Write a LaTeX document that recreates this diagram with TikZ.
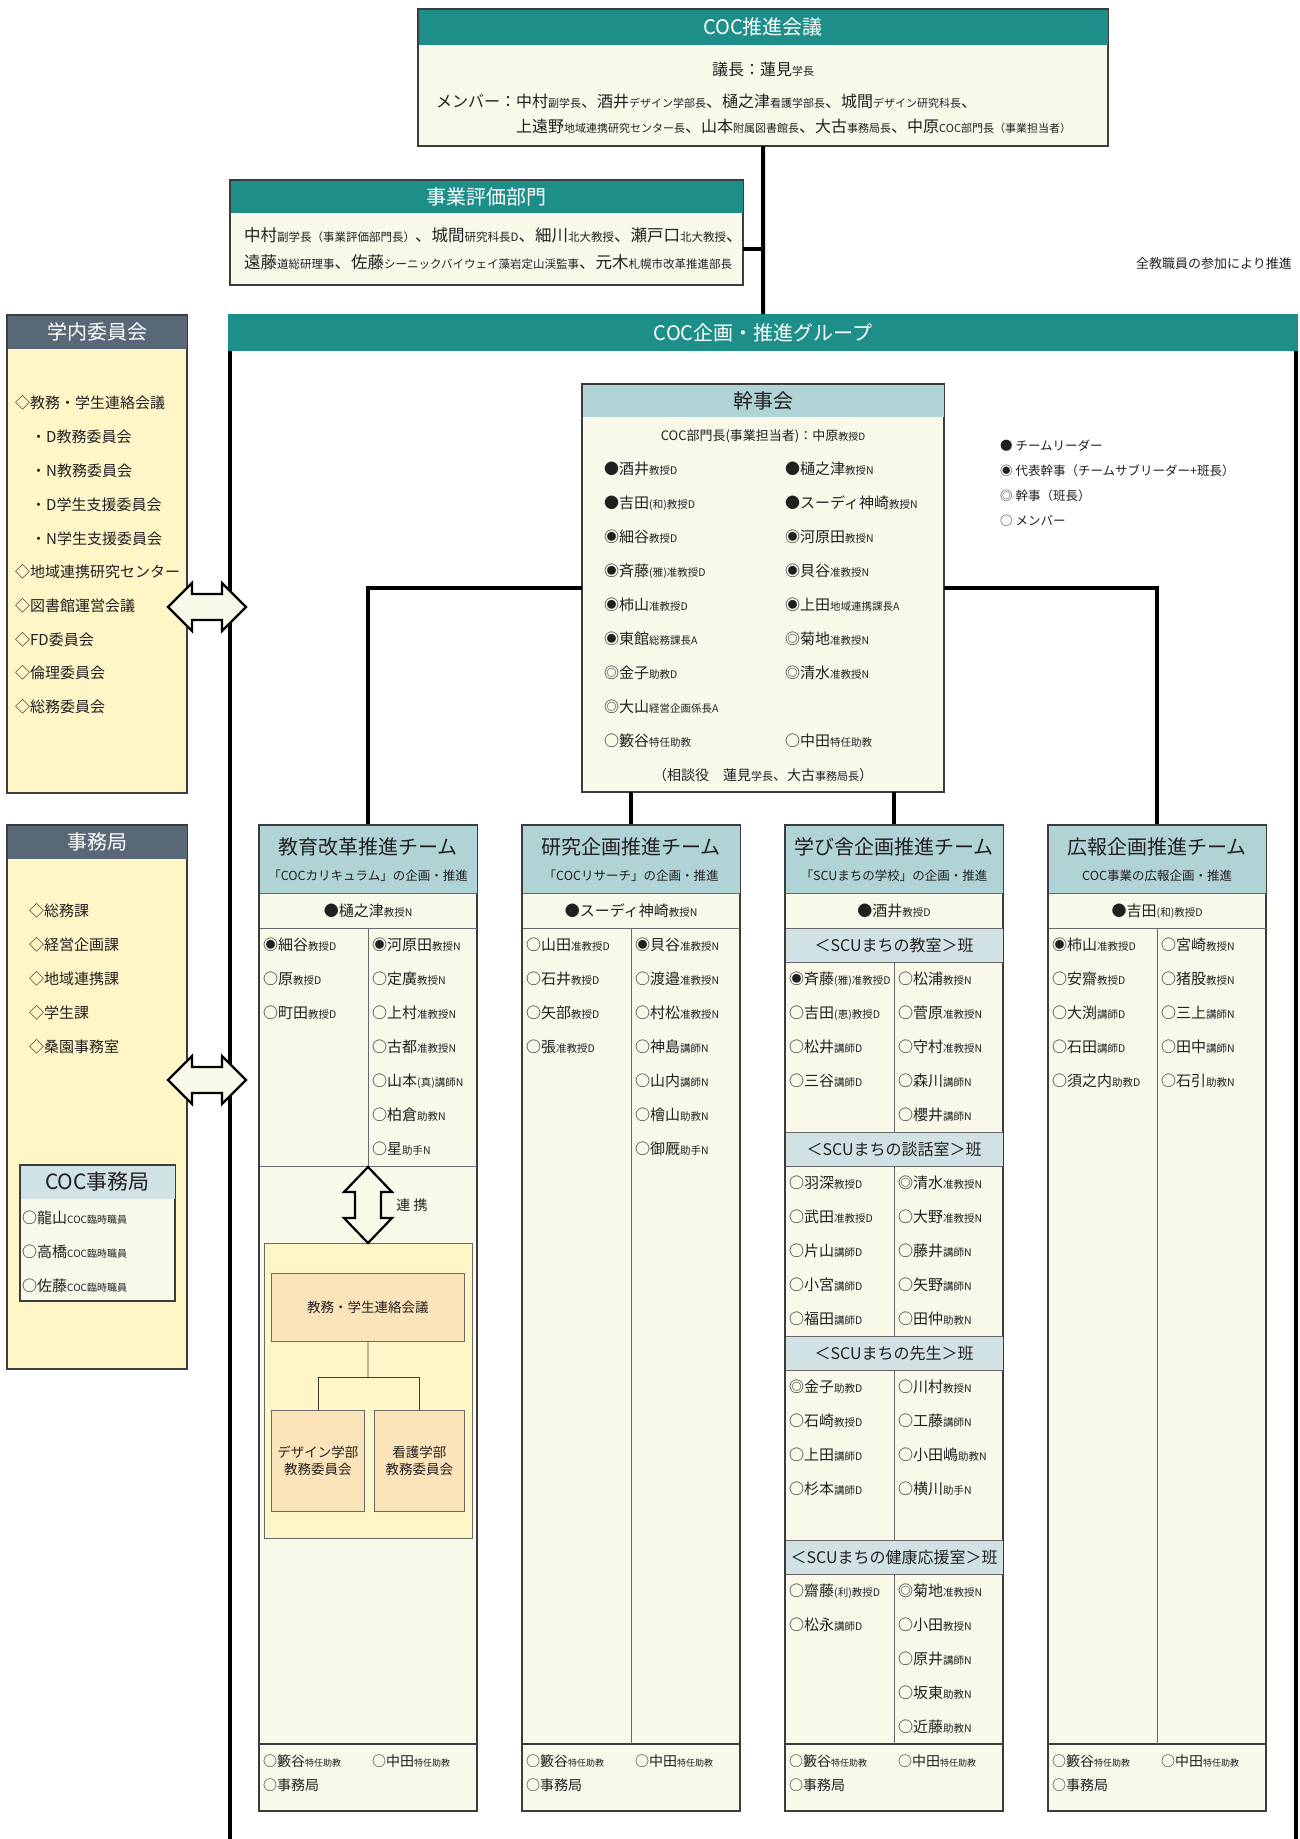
\documentclass[tikz,border=0pt]{standalone}
\usepackage{fontspec}
\setmainfont{Noto Sans CJK JP}
\usetikzlibrary{calc}
\definecolor{cTeal}{RGB}{30,142,137}
\definecolor{cSlate}{RGB}{88,104,118}
\definecolor{cLt}{RGB}{176,212,213}
\definecolor{cSec}{RGB}{208,226,227}
\definecolor{cCream}{RGB}{249,249,234}
\definecolor{cYel}{RGB}{255,246,200}
\definecolor{cOrg}{RGB}{251,228,185}
\definecolor{cBd}{RGB}{60,60,60}
\definecolor{cTx}{RGB}{35,31,32}
\definecolor{cGr}{RGB}{105,105,105}
\newcommand\fs[1]{\fontsize{#1}{#1}\selectfont}
\newcommand\smA[1]{{\fs{10.5}#1}}
\newcommand\smB[1]{{\fs{11}#1}}
\newcommand\smC[1]{{\fs{11.5}#1}}
\newcommand\smD[1]{{\fs{9}#1}}
\newcommand\smE[1]{{\fs{10}#1}}
\newcommand\HBox[8]{%
 \node[box, fill=#8, minimum width=#4pt, minimum height=#5pt] (#1) at (#2,#3) {};
 \fill[#7] (#1.north west) rectangle ($(#1.north east)+(0,#6)$);
 \draw[draw=cBd, line width=1.2pt] (#1.north west) rectangle (#1.south east);
}
\newcommand\Col[4]{%
 \foreach \n/\t [count=\i from 0] in {#4} {
   \node[mem] (#1-\i) at ({#2},{#3+34*\i}) {\n\smA{\t}};
 }
}
\newcommand\Team[5]{%
 \node[box, fill=cCream, minimum width=217pt, minimum height=985pt] (#1) at (#2,825) {};
 \fill[cLt] (#1.north west) rectangle ($(#1.north east)+(0,68)$);
 \draw[rowln] ($(#1.north west)+(0,68)$) -- ($(#1.north east)+(0,68)$);
 \draw[rowln] ($(#1.north west)+(0,103)$) -- ($(#1.north east)+(0,103)$);
 \draw[draw=cBd, line width=1.2pt] ($(#1.north west)+(0,919)$) -- ($(#1.north east)+(0,919)$);
 \node[ttl] (#1-t) at ($(#1.north)+(0,22)$) {#3};
 \node[font=\fs{12.5}, inner sep=0pt] (#1-s) at ($(#1.north)+(0,51)$) {#4};
 \node[font=\fs{15}, inner sep=0pt] (#1-l) at ($(#1.north)+(0,86)$) {#5};
 \node[mem, font=\fs{14}] (#1-f1) at ($(#1.north west)+(4,936)$) {○籔谷\smD{特任助教}};
 \node[mem, font=\fs{14}] (#1-f2) at ($(#1.north west)+(113,936)$) {○中田\smD{特任助教}};
 \node[mem, font=\fs{14}] (#1-f3) at ($(#1.north west)+(4,960)$) {○事務局};
}
\newcommand\HArr[2]{\draw[big] ({#1-39},{#2}) -- ({#1-15},{#2-24}) -- ({#1-15},{#2-13}) -- ({#1+15},{#2-13}) -- ({#1+15},{#2-24}) -- ({#1+39},{#2}) -- ({#1+15},{#2+24}) -- ({#1+15},{#2+13}) -- ({#1-15},{#2+13}) -- ({#1-15},{#2+24}) -- cycle;}
\newcommand\VArr[2]{\draw[big] ({#1},{#2-38}) -- ({#1+24},{#2-13}) -- ({#1+13},{#2-13}) -- ({#1+13},{#2+13}) -- ({#1+24},{#2+13}) -- ({#1},{#2+38}) -- ({#1-24},{#2+13}) -- ({#1-13},{#2+13}) -- ({#1-13},{#2-13}) -- ({#1-24},{#2-13}) -- cycle;}
\begin{document}
\begin{tikzpicture}[x=1pt, y=-1pt,
  every node/.style={text=cTx},
  box/.style={draw=cBd, line width=1.2pt, inner sep=0pt, anchor=north west},
  conn/.style={line width=4pt, draw=black},
  mem/.style={anchor=west, inner sep=0pt, font=\fs{15}},
  ttl/.style={inner sep=0pt, font=\fs{20}},
  rowln/.style={draw=cGr, line width=0.9pt},
  big/.style={draw=black, line width=2.2pt, fill=cCream, line join=miter}]
\useasboundingbox (0,0) rectangle (1300,1839);
\fill[white] (0,0) rectangle (1300,1839);

% ---------- COC 推進会議 ----------
\HBox{coc}{418}{9}{689}{136}{36}{cTeal}{cCream}
\node[ttl, text=white] (cocT) at ($(coc.north)+(0,18)$) {COC推進会議};
\node[font=\fs{16}, inner sep=0pt] (cocA) at (763,69) {議長：蓮見\smB{学長}};
\node[anchor=west, inner sep=0pt, font=\fs{16}] (cocB) at (436,101) {メンバー：中村\smB{副学長}、酒井\smB{デザイン学部長}、樋之津\smB{看護学部長}、城間\smB{デザイン研究科長}、};
\node[anchor=west, inner sep=0pt, font=\fs{16}] (cocC) at (516,126) {上遠野\smB{地域連携研究センター長}、山本\smB{附属図書館長}、大古\smB{事務局長}、中原\smB{COC部門長（事業担当者）}};

% ---------- 事業評価部門 ----------
\HBox{hyoka}{230}{180}{512}{104}{33}{cTeal}{cCream}
\node[ttl, text=white] (hyT) at ($(hyoka.north)+(0,17)$) {事業評価部門};
\node[anchor=west, inner sep=0pt, font=\fs{16.5}] (hyA) at (244,235) {中村\smC{副学長（事業評価部門長）}、城間\smC{研究科長D}、細川\smC{北大教授}、瀬戸口\smC{北大教授}、};
\node[anchor=west, inner sep=0pt, font=\fs{16.5}] (hyB) at (244,262) {遠藤\smC{道総研理事}、佐藤\smC{シーニックバイウェイ藻岩定山渓監事}、元木\smC{札幌市改革推進部長}};

\node[anchor=east, inner sep=0pt, font=\fs{13}] (allst) at (1292,264) {全教職員の参加により推進};

% ---------- COC企画・推進グループ ----------
\node[anchor=north west, inner sep=0pt, fill=cTeal, minimum width=1070pt, minimum height=37pt] (grp) at (228,314) {};
\coordinate (gL) at (230,1839);
\coordinate (gR) at (1296,1839);
\draw[conn] (grp.south west -| gL) -- (gL);
\draw[conn] (grp.south east -| gR) -- (gR);
\node[ttl, text=white] (grpT) at (grp.center) {COC企画・推進グループ};

\coordinate (hyR) at ($(hyoka.east)+(0,16)$);
\draw[conn] (coc.south) -- (grp.north);
\draw[conn] (hyR) -- (hyR -| coc.south);

% ---------- 学内委員会 ----------
\HBox{gakunai}{7}{315}{179}{477}{34}{cSlate}{cYel}
\node[ttl, text=white] (gkT) at ($(gakunai.north)+(0,17)$) {学内委員会};
\node[mem] (g1) at (15,403) {◇教務・学生連絡会議};
\node[mem] (g2) at (31,437) {・D教務委員会};
\node[mem] (g3) at (31,471) {・N教務委員会};
\node[mem] (g4) at (31,505) {・D学生支援委員会};
\node[mem] (g5) at (31,539) {・N学生支援委員会};
\node[mem] (g6) at (15,572) {◇地域連携研究センター};
\node[mem] (g7) at (15,606) {◇図書館運営会議};
\node[mem] (g8) at (15,640) {◇FD委員会};
\node[mem] (g9) at (15,673) {◇倫理委員会};
\node[mem] (g10) at (15,707) {◇総務委員会};

% ---------- 事務局 ----------
\HBox{jimu}{7}{825}{179}{543}{34}{cSlate}{cYel}
\node[ttl, text=white] (jmT) at ($(jimu.north)+(0,17)$) {事務局};
\node[mem] (j1) at (29,911) {◇総務課};
\node[mem] (j2) at (29,945) {◇経営企画課};
\node[mem] (j3) at (29,979) {◇地域連携課};
\node[mem] (j4) at (29,1013) {◇学生課};
\node[mem] (j5) at (29,1047) {◇桑園事務室};
\HBox{cocj}{20}{1165}{154}{135}{34}{cSec}{cCream}
\node[ttl, font=\fs{21}] (cjT) at ($(cocj.north)+(0,17)$) {COC事務局};
\node[mem] (cj1) at (22,1218) {○龍山\smE{COC臨時職員}};
\node[mem] (cj2) at (22,1252) {○高橋\smE{COC臨時職員}};
\node[mem] (cj3) at (22,1286) {○佐藤\smE{COC臨時職員}};

\HArr{207}{607}
\HArr{207}{1080}

% ---------- 幹事会 ----------
\HBox{kanji}{582}{384}{361}{407}{33}{cLt}{cCream}
\node[ttl] (kjT) at ($(kanji.north)+(0,17)$) {幹事会};
\node[font=\fs{13}, inner sep=0pt] (kjA) at (763,436) {COC部門長(事業担当者)：中原\smE{教授D}};
\Col{kjL}{604}{469}{●酒井/教授D, ●吉田/(和)教授D, ◉細谷/教授D, ◉斉藤/(雅)准教授D, ◉柿山/准教授D, ◉東館/総務課長A, ◎金子/助教D, ◎大山/経営企画係長A, ○籔谷/特任助教}
\Col{kjR}{785}{469}{●樋之津/教授N, ●スーディ神崎/教授N, ◉河原田/教授N, ◉貝谷/准教授N, ◉上田/地域連携課長A, ◎菊地/准教授N, ◎清水/准教授N}
\node[mem] (kjR-8) at (785,741) {○中田\smA{特任助教}};
\node[font=\fs{14}, inner sep=0pt] (kjB) at (763,775) {（相談役　蓮見\smB{学長}、大古\smB{事務局長}）};

% legend
\node[mem, font=\fs{12.5}] (lg1) at (1000,446) {● チームリーダー};
\node[mem, font=\fs{12.5}] (lg2) at (1000,471) {◉ 代表幹事（チームサブリーダー+班長）};
\node[mem, font=\fs{12.5}] (lg3) at (1000,496) {◎ 幹事（班長）};
\node[mem, font=\fs{12.5}] (lg4) at (1000,521) {○ メンバー};

% ---------- Teams ----------
\Team{t1}{259}{教育改革推進チーム}{「COCカリキュラム」の企画・推進}{●樋之津\smA{教授N}}
\Team{t2}{522}{研究企画推進チーム}{「COCリサーチ」の企画・推進}{●スーディ神崎\smA{教授N}}
\Team{t3}{785}{学び舎企画推進チーム}{「SCUまちの学校」の企画・推進}{●酒井\smA{教授D}}
\Team{t4}{1048}{広報企画推進チーム}{COC事業の広報企画・推進}{●吉田\smA{(和)教授D}}

\draw[conn] (kanji.west) -| (t1.north);
\draw[conn] (kanji.east) -| (t4.north);
\draw[conn] (kanji.south -| t2.north) -- (t2.north);
\draw[conn] (kanji.south -| t3.north) -- (t3.north);

% team 1
\draw[rowln] ($(t1.north)+(0,103)$) -- ($(t1.north)+(0,341)$);
\draw[rowln] ($(t1.north west)+(0,341)$) -- ($(t1.north east)+(0,341)$);
\Col{t1L}{263}{945}{◉細谷/教授D, ○原/教授D, ○町田/教授D}
\Col{t1R}{372}{945}{◉河原田/教授N, ○定廣/教授N, ○上村/准教授N, ○古都/准教授N, ○山本/(真)講師N, ○柏倉/助教N, ○星/助手N}
\node[box, fill=cYel, draw=cGr, line width=0.9pt, minimum width=208pt, minimum height=295pt] (yb) at (264,1243) {};
\node[box, fill=cOrg, draw=cGr, line width=0.9pt, minimum width=193pt, minimum height=68pt, font=\fs{13.5}] (ky) at (271,1273) {教務・学生連絡会議};
\node[box, fill=cOrg, draw=cGr, line width=0.9pt, minimum width=93pt, minimum height=101pt, font=\fs{13.5}, align=center] (des) at (271,1410) {デザイン学部\\[3pt]教務委員会};
\node[box, fill=cOrg, draw=cGr, line width=0.9pt, minimum width=90pt, minimum height=101pt, font=\fs{13.5}, align=center] (kan) at (374,1410) {看護学部\\[3pt]教務委員会};
\coordinate (junc) at (368,1377);
\draw[cBd, line width=0.9pt] (ky.south) -- (junc);
\draw[cBd, line width=0.9pt] (des.north) |- (junc) -| (kan.north);
\VArr{368}{1205}
\node[font=\fs{14}, inner sep=0pt] (renkei) at (412,1205) {連 携};

% team 2
\draw[rowln] ($(t2.north)+(0,103)$) -- ($(t2.north)+(0,919)$);
\Col{t2L}{526}{945}{○山田/准教授D, ○石井/教授D, ○矢部/教授D, ○張/准教授D}
\Col{t2R}{635}{945}{◉貝谷/准教授N, ○渡邉/准教授N, ○村松/准教授N, ○神島/講師N, ○山内/講師N, ○檜山/助教N, ○御厩/助手N}

% team 3
\foreach \k/\lab in {0/教室, 6/談話室, 12/先生, 18/健康応援室} {
  \fill[cSec] ($(t3.north west)+(0,103+34*\k)$) rectangle ($(t3.north east)+(0,137+34*\k)$);
  \draw[rowln] ($(t3.north west)+(0,103+34*\k)$) -- ($(t3.north east)+(0,103+34*\k)$);
  \draw[rowln] ($(t3.north west)+(0,137+34*\k)$) -- ($(t3.north east)+(0,137+34*\k)$);
  \draw[rowln] ($(t3.north)+(0,137+34*\k)$) -- ($(t3.north)+(0,307+34*\k)$);
  \node[font=\fs{16}, inner sep=0pt] (sec\k) at ($(t3.north)+(0,120+34*\k)$) {＜SCUまちの\lab ＞班};
}
\Col{t3aL}{789}{979}{◉斉藤/(雅)准教授D, ○吉田/(恵)教授D, ○松井/講師D, ○三谷/講師D}
\Col{t3aR}{898}{979}{○松浦/教授N, ○菅原/准教授N, ○守村/准教授N, ○森川/講師N, ○櫻井/講師N}
\Col{t3bL}{789}{1183}{○羽深/教授D, ○武田/准教授D, ○片山/講師D, ○小宮/講師D, ○福田/講師D}
\Col{t3bR}{898}{1183}{◎清水/准教授N, ○大野/准教授N, ○藤井/講師N, ○矢野/講師N, ○田仲/助教N}
\Col{t3cL}{789}{1387}{◎金子/助教D, ○石崎/教授D, ○上田/講師D, ○杉本/講師D}
\Col{t3cR}{898}{1387}{○川村/教授N, ○工藤/講師N, ○小田嶋/助教N, ○横川/助手N}
\Col{t3dL}{789}{1591}{○齋藤/(利)教授D, ○松永/講師D}
\Col{t3dR}{898}{1591}{◎菊地/准教授N, ○小田/教授N, ○原井/講師N, ○坂東/助教N, ○近藤/助教N}

% team 4
\draw[rowln] ($(t4.north)+(0,103)$) -- ($(t4.north)+(0,919)$);
\Col{t4L}{1052}{945}{◉柿山/准教授D, ○安齋/教授D, ○大渕/講師D, ○石田/講師D, ○須之内/助教D}
\Col{t4R}{1161}{945}{○宮崎/教授N, ○猪股/教授N, ○三上/講師N, ○田中/講師N, ○石引/助教N}

% team borders on top
\foreach \tm in {t1,t2,t3,t4} {
  \draw[draw=cBd, line width=1.2pt] (\tm.north west) rectangle (\tm.south east);
}
\end{tikzpicture}
\end{document}
